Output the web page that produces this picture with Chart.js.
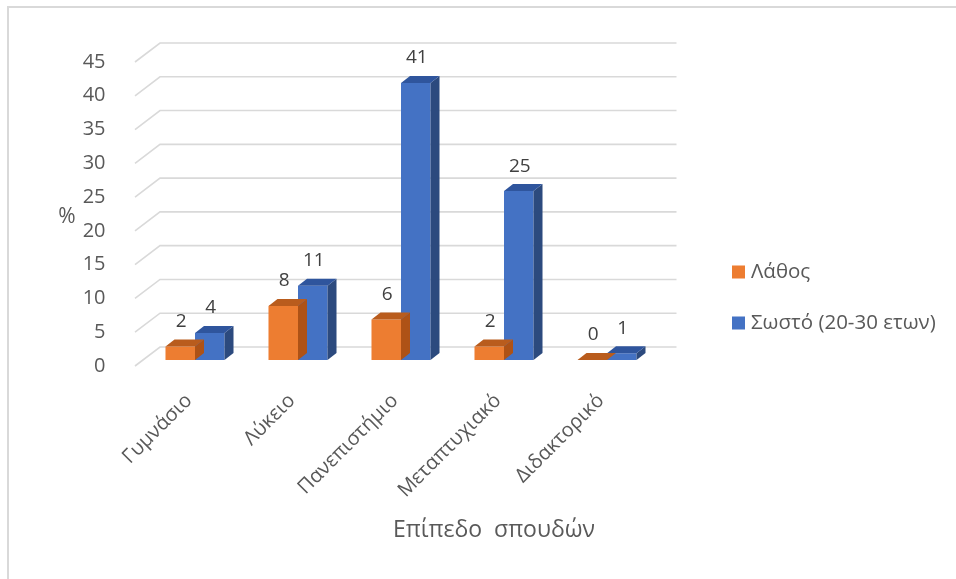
<!DOCTYPE html>
<html>
<head>
<meta charset="utf-8">
<script src="https://cdn.jsdelivr.net/npm/chart.js@4.4.1/dist/chart.umd.min.js"></script>
<style>
  body { margin: 0; background: #fff; }
</style>
</head>
<body>
<canvas id="myChart" width="956" height="579"></canvas>
<script>
// data
const levels = ['Γυμνάσιο', 'Λύκειο', 'Πανεπιστήμιο', 'Μεταπτυχιακό', 'Διδακτορικό'];
const wrongValues = [2, 8, 6, 2, 0];
const rightValues = [4, 11, 41, 25, 1];
const seriesNames = ['Λάθος', 'Σωστό (20-30 ετων)'];
const yTickValues = [0, 5, 10, 15, 20, 25, 30, 35, 40, 45];
const xTitle = 'Επίπεδο  σπουδών';
const yTitle = '%';

// colours: front, top, side
const orange = ['#ed7d31', '#b95c1d', '#ae5216'];
const blue = ['#4472c4', '#2f559d', '#2c4a7e'];

const FONT = '"Open Sans", "DejaVu Sans", sans-serif';
const textColor = '#595959';
const depthX = 9, depthY = 7;

function face(ctx, pts, color) {
  ctx.beginPath();
  ctx.moveTo(pts[0][0], pts[0][1]);
  for (let i = 1; i < pts.length; i++) ctx.lineTo(pts[i][0], pts[i][1]);
  ctx.closePath();
  ctx.fillStyle = color;
  ctx.fill();
}

const bars3d = {
  id: 'bars3d',
  beforeDatasetsDraw(chart) {
    // back wall gridlines with the slanted floor edge
    const ctx = chart.ctx, area = chart.chartArea, y = chart.scales.y;
    ctx.save();
    ctx.strokeStyle = '#d9d9d9';
    ctx.lineWidth = 1.6;
    yTickValues.forEach(v => {
      const py = y.getPixelForValue(v);
      ctx.beginPath();
      ctx.moveTo(area.left - 8.5, py + 6);
      ctx.lineTo(area.left + 16.5, py - 13);
      ctx.lineTo(area.right + 18, py - 13);
      ctx.stroke();
    });
    ctx.restore();
  },
  afterDatasetDraw(chart, args) {
    // top and side faces of each bar
    const ctx = chart.ctx;
    const cols = args.index === 0 ? orange : blue;
    const meta = chart.getDatasetMeta(args.index);
    ctx.save();
    meta.data.forEach(el => {
      const p = el.getProps(['x', 'y', 'base', 'width'], true);
      const x0 = p.x - p.width / 2, x1 = p.x + p.width / 2;
      face(ctx, [[x1, p.y], [x1 + depthX, p.y - depthY], [x1 + depthX, p.base - depthY], [x1, p.base]], cols[2]);
      face(ctx, [[x0, p.y], [x1, p.y], [x1 + depthX, p.y - depthY], [x0 + depthX, p.y - depthY]], cols[1]);
    });
    ctx.restore();
  },
  afterDraw(chart) {
    const ctx = chart.ctx;
    ctx.save();
    // value labels
    ctx.fillStyle = '#404040';
    ctx.font = '19px ' + FONT;
    ctx.textAlign = 'center';
    ctx.textBaseline = 'middle';
    chart.data.datasets.forEach((ds, i) => {
      chart.getDatasetMeta(i).data.forEach((el, j) => {
        const p = el.getProps(['x', 'y'], true);
        ctx.fillText(String(ds.data[j]), p.x + 1, p.y - 25);
      });
    });
    // axis titles
    ctx.fillStyle = textColor;
    ctx.font = '23px ' + FONT;
    ctx.fillText(xTitle, 494, 530);
    ctx.font = '21px ' + FONT;
    ctx.fillText(yTitle, 67, 217);
    // legend
    ctx.textAlign = 'left';
    ctx.font = '20.5px ' + FONT;
    const legendY = [272, 323];
    chart.data.datasets.forEach((ds, i) => {
      ctx.fillStyle = ds.backgroundColor;
      ctx.fillRect(732, legendY[i] - 6.5, 13, 13);
      ctx.fillStyle = textColor;
      ctx.fillText(ds.label, 751, legendY[i]);
    });
    // outer frame (top and left edges only)
    ctx.strokeStyle = '#d9d9d9';
    ctx.lineWidth = 2;
    ctx.beginPath();
    ctx.moveTo(8, 579);
    ctx.lineTo(8, 7);
    ctx.lineTo(956, 7);
    ctx.stroke();
    ctx.restore();
  }
};

const data = {
  labels: levels,
  datasets: [{
    label: seriesNames[0],
    data: wrongValues,
    backgroundColor: orange[0],
    categoryPercentage: 0.573,
    barPercentage: 1
  }, {
    label: seriesNames[1],
    data: rightValues,
    backgroundColor: blue[0],
    categoryPercentage: 0.573,
    barPercentage: 1
  }]
};

const config = {
  type: 'bar',
  data,
  options: {
    responsive: false,
    animation: false,
    layout: { padding: { top: 56, right: 297.5, left: 0, bottom: 0 } },
    plugins: {
      legend: { display: false },
      tooltip: { enabled: false }
    },
    scales: {
      x: {
        grid: { display: false },
        border: { display: false },
        ticks: {
          minRotation: 45,
          maxRotation: 45,
          padding: 21,
          labelOffset: -6,
          color: textColor,
          font: { family: FONT, size: 20 }
        },
        afterFit(scale) { scale.height = 219; }
      },
      y: {
        min: 0,
        max: 45,
        afterBuildTicks(scale) { scale.ticks = yTickValues.map(v => ({ value: v })); },
        grid: { display: false },
        border: { display: false },
        ticks: {
          padding: 30,
          labelOffset: 6,
          color: textColor,
          font: { family: FONT, size: 20 }
        },
        afterFit(scale) { scale.width = 143.5; }
      }
    }
  },
  plugins: [bars3d]
};

const myChart = new Chart(document.getElementById('myChart'), config);
</script>
</body>
</html>
